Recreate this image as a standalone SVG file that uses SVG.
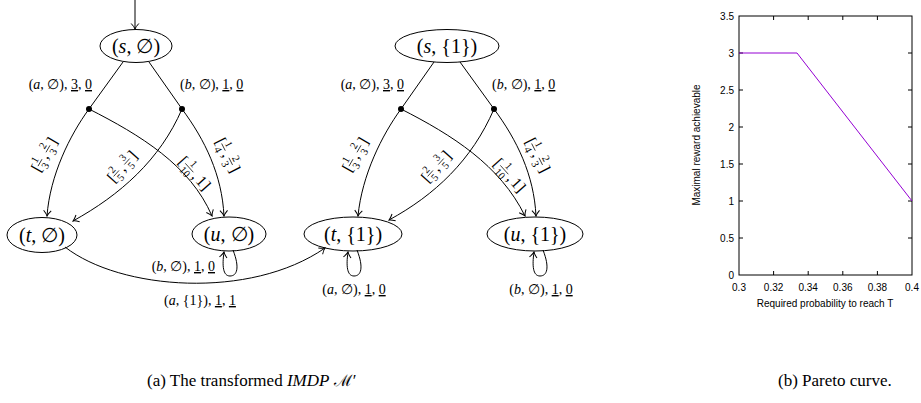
<svg xmlns="http://www.w3.org/2000/svg" width="921" height="403" viewBox="0 0 921 403">
<style>
text{font-family:"Liberation Serif","DejaVu Serif",serif;fill:#000}
.nl{font-size:20px;text-anchor:middle}
.el{font-size:14px}
.i{font-style:italic}
.u{text-decoration:underline}
.fr{font-size:10.5px;text-anchor:middle}
.br{font-size:16px}
.c{fill:none;stroke:#000;stroke-width:1}
.fb{stroke:#000;stroke-width:0.7}
.ax text{font-family:"Liberation Sans",Arial,sans-serif;font-size:10px}
.cap{font-size:17px}
</style>
<defs>
<marker id="ah" viewBox="-7 -5 8 10" refX="0" refY="0" markerWidth="8" markerHeight="10" markerUnits="userSpaceOnUse" orient="auto">
<path d="M-5.5,-3.8 Q-2,-0.6 0,0 Q-2,0.6 -5.5,3.8" fill="none" stroke="#000" stroke-width="1"/>
</marker>
</defs>

<g id="s0"><ellipse class="c" cx="136" cy="46" rx="36" ry="16.5"/><text class="nl" x="136" y="53">(<tspan class="i">s</tspan>, ∅)</text></g>
<g id="t0"><ellipse class="c" cx="42" cy="235" rx="35" ry="17.5"/><text class="nl" x="42" y="242">(<tspan class="i">t</tspan>, ∅)</text></g>
<g id="u0"><ellipse class="c" cx="229" cy="234" rx="37" ry="17"/><text class="nl" x="229" y="241">(<tspan class="i">u</tspan>, ∅)</text></g>
<g id="s1"><ellipse class="c" cx="447" cy="46" rx="52" ry="16.5"/><text class="nl" x="447" y="53">(<tspan class="i">s</tspan>, {1})</text></g>
<g id="t1"><ellipse class="c" cx="353" cy="234" rx="49" ry="17"/><text class="nl" x="353" y="241">(<tspan class="i">t</tspan>, {1})</text></g>
<g id="u1"><ellipse class="c" cx="535" cy="234" rx="48" ry="17"/><text class="nl" x="535" y="241">(<tspan class="i">u</tspan>, {1})</text></g>

<g id="connectors">
<path class="c" d="M135,0 L135,29" marker-end="url(#ah)"/>
<path class="c" d="M123,62 L89,109"/>
<path class="c" d="M149,62 L182,109"/>
<circle cx="89" cy="109" r="3"/>
<circle cx="182" cy="109" r="3"/>
<path class="c" d="M89,109 C70,135 50,175 47,216" marker-end="url(#ah)"/>
<path class="c" d="M89,109 C140,135 190,165 212,216" marker-end="url(#ah)"/>
<path class="c" d="M182,109 C160,160 120,195 73,221" marker-end="url(#ah)"/>
<path class="c" d="M182,109 C205,140 222,175 224,216" marker-end="url(#ah)"/>
<path class="c" d="M233,250 C240,268 237,276 230,276 C223,276 222,266 224,252" marker-end="url(#ah)"/>
<path class="c" d="M65,247 C120,290 250,300 325,248" marker-end="url(#ah)"/>

<path class="c" d="M434,62 L401,109"/>
<path class="c" d="M460,62 L494,109"/>
<circle cx="401" cy="109" r="3"/>
<circle cx="494" cy="109" r="3"/>
<path class="c" d="M401,109 C382,135 362,175 358,216" marker-end="url(#ah)"/>
<path class="c" d="M401,109 C452,135 500,165 525,216" marker-end="url(#ah)"/>
<path class="c" d="M494,109 C472,160 435,195 389,220" marker-end="url(#ah)"/>
<path class="c" d="M494,109 C517,140 534,175 536,216" marker-end="url(#ah)"/>
<path class="c" d="M357,250 C364,268 361,276 354,276 C347,276 346,266 348,252" marker-end="url(#ah)"/>
<path class="c" d="M543,250 C550,268 547,276 540,276 C533,276 532,266 534,252" marker-end="url(#ah)"/>
</g>

<g id="labels">
<text class="el" x="92" y="89" text-anchor="end">(<tspan class="i">a</tspan>, ∅), <tspan class="u">3</tspan>, <tspan class="u">0</tspan></text>
<text class="el" x="180" y="89">(<tspan class="i">b</tspan>, ∅), <tspan class="u">1</tspan>, <tspan class="u">0</tspan></text>
<text class="el" x="215" y="271" text-anchor="end">(<tspan class="i">b</tspan>, ∅), <tspan class="u">1</tspan>, <tspan class="u">0</tspan></text>
<text class="el" x="200" y="305" text-anchor="middle">(<tspan class="i">a</tspan>, {1}), <tspan class="u">1</tspan>, <tspan class="u">1</tspan></text>
<text class="el" x="404" y="89" text-anchor="end">(<tspan class="i">a</tspan>, ∅), <tspan class="u">3</tspan>, <tspan class="u">0</tspan></text>
<text class="el" x="492" y="89">(<tspan class="i">b</tspan>, ∅), <tspan class="u">1</tspan>, <tspan class="u">0</tspan></text>
<text class="el" x="354" y="294" text-anchor="middle">(<tspan class="i">a</tspan>, ∅), <tspan class="u">1</tspan>, <tspan class="u">0</tspan></text>
<text class="el" x="541" y="294" text-anchor="middle">(<tspan class="i">b</tspan>, ∅), <tspan class="u">1</tspan>, <tspan class="u">0</tspan></text>

<g transform="translate(45,154) rotate(-60)">
<text class="br" x="-19" y="5">[</text><text class="fr" x="-10" y="-2.5">1</text><line class="fb" x1="-14" y1="0" x2="-6" y2="0"/><text class="fr" x="-10" y="9.5">3</text>
<text class="br" x="-4" y="5">,</text><text class="fr" x="6" y="-2.5">2</text><line class="fb" x1="2" y1="0" x2="10" y2="0"/><text class="fr" x="6" y="9.5">3</text><text class="br" x="12" y="5">]</text></g>
<g transform="translate(123,166) rotate(-48)">
<text class="br" x="-19" y="5">[</text><text class="fr" x="-10" y="-2.5">2</text><line class="fb" x1="-14" y1="0" x2="-6" y2="0"/><text class="fr" x="-10" y="9.5">5</text>
<text class="br" x="-4" y="5">,</text><text class="fr" x="6" y="-2.5">3</text><line class="fb" x1="2" y1="0" x2="10" y2="0"/><text class="fr" x="6" y="9.5">5</text><text class="br" x="12" y="5">]</text></g>
<g transform="translate(194,173) rotate(48)">
<text class="br" x="-19" y="5">[</text><text class="fr" x="-7" y="-2.5">1</text><line class="fb" x1="-13" y1="0" x2="-1" y2="0"/><text class="fr" x="-7" y="9.5">10</text>
<text class="br" x="1" y="5">,</text><text class="br" x="7" y="5">1</text><text class="br" x="15" y="5">]</text></g>
<g transform="translate(228,156) rotate(63)">
<text class="br" x="-19" y="5">[</text><text class="fr" x="-10" y="-2.5">1</text><line class="fb" x1="-14" y1="0" x2="-6" y2="0"/><text class="fr" x="-10" y="9.5">4</text>
<text class="br" x="-4" y="5">,</text><text class="fr" x="6" y="-2.5">2</text><line class="fb" x1="2" y1="0" x2="10" y2="0"/><text class="fr" x="6" y="9.5">3</text><text class="br" x="12" y="5">]</text></g>

<g transform="translate(356,154) rotate(-60)">
<text class="br" x="-19" y="5">[</text><text class="fr" x="-10" y="-2.5">1</text><line class="fb" x1="-14" y1="0" x2="-6" y2="0"/><text class="fr" x="-10" y="9.5">3</text>
<text class="br" x="-4" y="5">,</text><text class="fr" x="6" y="-2.5">2</text><line class="fb" x1="2" y1="0" x2="10" y2="0"/><text class="fr" x="6" y="9.5">3</text><text class="br" x="12" y="5">]</text></g>
<g transform="translate(437,166) rotate(-48)">
<text class="br" x="-19" y="5">[</text><text class="fr" x="-10" y="-2.5">2</text><line class="fb" x1="-14" y1="0" x2="-6" y2="0"/><text class="fr" x="-10" y="9.5">5</text>
<text class="br" x="-4" y="5">,</text><text class="fr" x="6" y="-2.5">3</text><line class="fb" x1="2" y1="0" x2="10" y2="0"/><text class="fr" x="6" y="9.5">5</text><text class="br" x="12" y="5">]</text></g>
<g transform="translate(509,175) rotate(48)">
<text class="br" x="-19" y="5">[</text><text class="fr" x="-7" y="-2.5">1</text><line class="fb" x1="-13" y1="0" x2="-1" y2="0"/><text class="fr" x="-7" y="9.5">10</text>
<text class="br" x="1" y="5">,</text><text class="br" x="7" y="5">1</text><text class="br" x="15" y="5">]</text></g>
<g transform="translate(538,156) rotate(63)">
<text class="br" x="-19" y="5">[</text><text class="fr" x="-10" y="-2.5">1</text><line class="fb" x1="-14" y1="0" x2="-6" y2="0"/><text class="fr" x="-10" y="9.5">4</text>
<text class="br" x="-4" y="5">,</text><text class="fr" x="6" y="-2.5">2</text><line class="fb" x1="2" y1="0" x2="10" y2="0"/><text class="fr" x="6" y="9.5">3</text><text class="br" x="12" y="5">]</text></g>
</g>

<g id="chart">
<rect x="739" y="16" width="173" height="259" fill="none" stroke="#000" stroke-width="1"/>
<path stroke="#000" stroke-width="1" d="M739,53h4M739,90h4M739,127h4M739,164h4M739,201h4M739,238h4M912,53h-4M912,90h-4M912,127h-4M912,164h-4M912,201h-4M912,238h-4M773.6,275v-4M808.2,275v-4M842.8,275v-4M877.4,275v-4M773.6,16v4M808.2,16v4M842.8,16v4M877.4,16v4"/>
<g class="ax" text-anchor="end">
<text x="734" y="19.5">3.5</text><text x="734" y="56.5">3</text><text x="734" y="93.5">2.5</text><text x="734" y="130.5">2</text><text x="734" y="167.5">1.5</text><text x="734" y="204.5">1</text><text x="734" y="241.5">0.5</text><text x="734" y="278.5">0</text>
</g>
<g class="ax" text-anchor="middle">
<text x="739" y="291">0.3</text><text x="773.6" y="291">0.32</text><text x="808.2" y="291">0.34</text><text x="842.8" y="291">0.36</text><text x="877.4" y="291">0.38</text><text x="912" y="291">0.4</text>
<text x="825" y="307">Required probability to reach T</text>
<text transform="translate(700,145) rotate(-90)">Maximal reward achievable</text>
</g>
<path d="M739,53 L797,53 L912,201" fill="none" stroke="#9400D3" stroke-width="1"/>
</g>

<text class="cap" x="147" y="386">(a) The transformed <tspan class="i">IMDP</tspan> <tspan font-family="DejaVu Serif,serif" font-size="16">ℳ</tspan><tspan dx="1">′</tspan></text>
<text class="cap" x="778" y="386">(b) Pareto curve.</text>
</svg>
